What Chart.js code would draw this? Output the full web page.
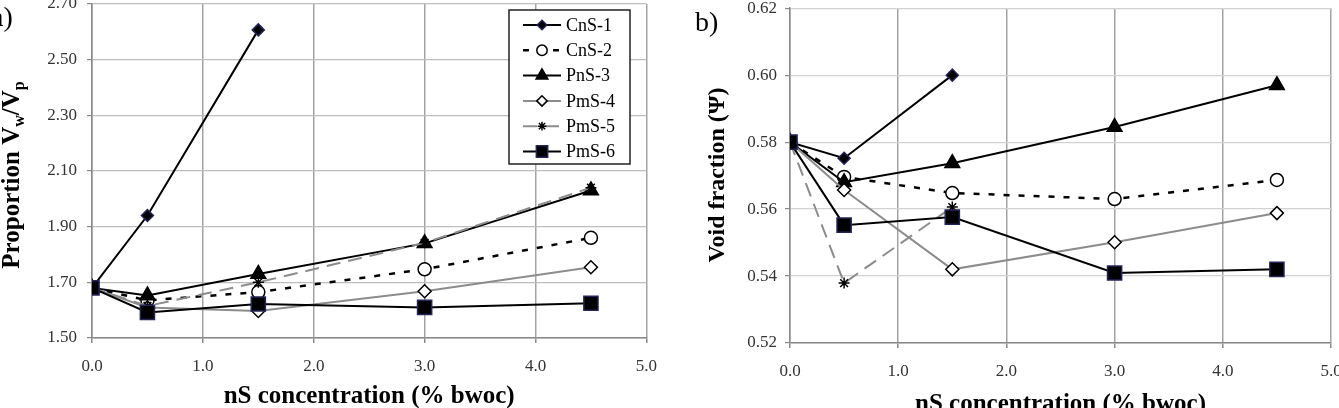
<!DOCTYPE html>
<html>
<head>
<meta charset="utf-8">
<script src="https://cdn.jsdelivr.net/npm/chart.js"></script>
<style>
html, body { margin: 0; padding: 0; background: #fff; overflow: hidden; }
#wrap { position: relative; width: 1339px; height: 408px; overflow: hidden; }
canvas { position: absolute; }
#chartA { left: 0; top: -17px; }
#chartB { left: 680px; top: -10px; }
</style>
</head>
<body>
<div id="wrap">
<canvas id="chartA" width="670" height="437"></canvas>
<canvas id="chartB" width="680" height="430"></canvas>
</div>
<script>
// data
const xValues = [0.0, 0.5, 1.5, 3.0, 4.5];
const seriesNames = ['CnS-1', 'CnS-2', 'PnS-3', 'PmS-4', 'PmS-5', 'PmS-6'];

// a) proportion Vw/Vp
const propCnS1 = [1.68, 1.94, 2.607, null, null];
const propCnS2 = [1.68, 1.635, 1.665, 1.747, 1.86];
const propPnS3 = [1.68, 1.653, 1.73, 1.84, 2.03];
const propPmS4 = [1.68, 1.61, 1.597, 1.668, 1.754];
const propPmS5 = [1.68, 1.615, 1.70, 1.842, 2.04];
const propPmS6 = [1.68, 1.592, 1.622, 1.61, 1.625];

// b) void fraction
const voidCnS1 = [0.580, 0.5752, 0.600, null, null];
const voidCnS2 = [0.580, 0.5696, 0.5648, 0.563, 0.5687];
const voidPnS3 = [0.580, 0.568, 0.5737, 0.5845, 0.597];
const voidPmS4 = [0.580, 0.5657, 0.542, 0.5501, 0.5588];
const voidPmS5 = [0.580, 0.5379, 0.5606, null, null];
const voidPmS6 = [0.580, 0.5552, 0.5576, 0.5409, 0.542];

// tick labels
const xTicks = [0, 1, 2, 3, 4, 5];
const yTicksA = [1.50, 1.70, 1.90, 2.10, 2.30, 2.50, 2.70];
const yTicksB = [0.52, 0.54, 0.56, 0.58, 0.60, 0.62];

const SERIF = '"Liberation Serif", "Times New Roman", serif';
const GRAY = '#8c8c8c';

// one style per series
const styles = [
  { color: '#000', dash: [], pointStyle: 'rectRot', radius: 6, fill: '#000', edge: '#23235a' },
  { color: '#000', dash: [6, 9], width: 2.5, pointStyle: 'circle', radius: 6.5, fill: '#fff', edge: '#000' },
  { color: '#000', dash: [], pointStyle: 'triangle', radius: 8.5, fill: '#000', edge: '#000' },
  { color: GRAY, dash: [], pointStyle: 'rectRot', radius: 6.5, fill: '#fff', edge: '#000' },
  { color: GRAY, dash: [14, 8], pointStyle: 'star', radius: 5.5, fill: '#000', edge: '#000' },
  { color: '#000', dash: [], pointStyle: 'rect', radius: 10, fill: '#000', edge: '#23235a' }
];

function makeDatasets(seriesList) {
  return seriesList.map((vals, i) => {
    const st = styles[i];
    const pts = [];
    vals.forEach((v, j) => { if (v !== null) pts.push({ x: xValues[j], y: v }); });
    return {
      label: seriesNames[i],
      data: pts,
      borderColor: st.color,
      borderWidth: st.width || 2,
      borderDash: st.dash,
      pointStyle: st.pointStyle,
      pointRadius: st.radius,
      pointBackgroundColor: st.fill,
      pointBorderColor: st.edge,
      pointBorderWidth: 1.5,
      tension: 0,
      fill: false,
      order: 5 - i
    };
  });
}

// y title, panel label and boxed legend drawn on top
const extrasPlugin = {
  id: 'extras',
  afterDraw(chart, args, opts) {
    const ctx = chart.ctx;
    ctx.save();
    ctx.fillStyle = '#000';
    // panel label
    ctx.font = '28px ' + SERIF;
    ctx.textBaseline = 'alphabetic';
    ctx.textAlign = 'left';
    ctx.fillText(opts.panel.text, opts.panel.x, opts.panel.y);

    // rotated y title with subscripts
    ctx.save();
    ctx.translate(opts.yTitle.x, opts.yTitle.y);
    ctx.rotate(-Math.PI / 2);
    let total = 0;
    opts.yTitle.parts.forEach(p => { ctx.font = p.font; total += ctx.measureText(p.text).width; });
    let px = -total / 2;
    opts.yTitle.parts.forEach(p => {
      ctx.font = p.font;
      ctx.fillText(p.text, px, p.dy || 0);
      px += ctx.measureText(p.text).width;
    });
    ctx.restore();

    if (opts.legend) {
      const L = opts.legend;
      ctx.fillStyle = '#fff';
      ctx.fillRect(L.x, L.y, L.w, L.h);
      ctx.strokeStyle = '#222';
      ctx.lineWidth = 1.5;
      ctx.strokeRect(L.x, L.y, L.w, L.h);
      chart.data.datasets.forEach((ds, i) => {
        const st = styles[i];
        const y = L.y + L.first + i * L.step;
        ctx.save();
        ctx.strokeStyle = st.color;
        ctx.lineWidth = st.width || 2;
        ctx.setLineDash(st.dash);
        ctx.beginPath();
        ctx.moveTo(L.x + 14, y);
        ctx.lineTo(L.x + 52, y);
        ctx.stroke();
        ctx.setLineDash([]);
        ctx.fillStyle = st.fill;
        ctx.strokeStyle = st.edge;
        ctx.lineWidth = 1.5;
        if (Chart.helpers && Chart.helpers.drawPoint) {
          Chart.helpers.drawPoint(ctx, { pointStyle: st.pointStyle, radius: st.radius * 0.8, borderWidth: 1.5, rotation: 0 }, L.x + 33, y);
        }
        ctx.restore();
        ctx.fillStyle = '#000';
        ctx.font = '18px ' + SERIF;
        ctx.textBaseline = 'middle';
        ctx.fillText(ds.label, L.x + 57, y + 1);
      });
    }
    ctx.restore();
  }
};

function makeChart(id, seriesList, yMin, yMax, yTicks, layout, extras) {
  return new Chart(document.getElementById(id), {
    type: 'line',
    data: { datasets: makeDatasets(seriesList) },
    plugins: [extrasPlugin],
    options: {
      responsive: false,
      animation: false,
      devicePixelRatio: 1,
      layout: { padding: { left: 0, right: layout.right, top: layout.top, bottom: 0 } },
      plugins: {
        legend: { display: false },
        tooltip: { enabled: false },
        extras: extras
      },
      scales: {
        x: {
          type: 'linear',
          min: 0,
          max: 5,
          afterBuildTicks: s => { s.ticks = xTicks.map(v => ({ value: v })); },
          afterFit: s => { s.height = layout.xHeight; },
          grid: { color: '#a3a3a3', lineWidth: 1.5, tickLength: 5, tickColor: '#888' },
          border: { color: '#888', width: 1.5 },
          ticks: {
            color: '#333',
            padding: 13,
            maxRotation: 0,
            font: { family: SERIF, size: 17 },
            callback: v => Number(v).toFixed(1)
          },
          title: {
            display: true,
            text: 'nS concentration (% bwoc)',
            color: '#000',
            font: { family: SERIF, size: 25, weight: 'bold', lineHeight: 1.2 },
            padding: { top: 0, bottom: layout.titlePad }
          }
        },
        y: {
          min: yMin,
          max: yMax,
          afterBuildTicks: s => { s.ticks = yTicks.map(v => ({ value: v })); },
          afterFit: s => { s.width = layout.yWidth; },
          grid: { color: layout.hGrid, lineWidth: 1.2, tickLength: 5, tickColor: '#888' },
          border: { color: '#888', width: 1.5 },
          ticks: {
            color: '#333',
            padding: layout.yPad,
            font: { family: SERIF, size: 17 },
            callback: v => Number(v).toFixed(2)
          }
        }
      }
    }
  });
}

const boldBig = 'bold 25px ' + SERIF;
const boldSub = 'bold 16px ' + SERIF;

makeChart('chartA',
  [propCnS1, propCnS2, propPnS3, propPmS4, propPmS5, propPmS6],
  1.5, 2.7, yTicksA,
  { right: 20, top: 21, xHeight: 82, yWidth: 92, yPad: 10, titlePad: 8, hGrid: '#bdbdbd' },
  {
    panel: { text: 'a)', x: -9, y: 43 },
    yTitle: {
      x: 19, y: 192,
      parts: [
        { text: 'Proportion V', font: boldBig },
        { text: 'w', font: boldSub, dy: 5 },
        { text: '/V', font: boldBig },
        { text: 'p', font: boldSub, dy: 5 }
      ]
    },
    legend: { x: 509, y: 27, w: 121, h: 154, first: 15, step: 25.3 }
  });

makeChart('chartB',
  [voidCnS1, voidCnS2, voidPnS3, voidPmS4, voidPmS5, voidPmS6],
  0.52, 0.62, yTicksB,
  { right: 29, top: 18, xHeight: 77, yWidth: 110, yPad: 8, titlePad: 0, hGrid: '#d2d2d2' },
  {
    panel: { text: 'b)', x: 15, y: 41 },
    yTitle: {
      x: 44, y: 185,
      parts: [ { text: 'Void fraction (\u03A8)', font: 'bold 24px ' + SERIF } ]
    },
    legend: null
  });
</script>
</body>
</html>
